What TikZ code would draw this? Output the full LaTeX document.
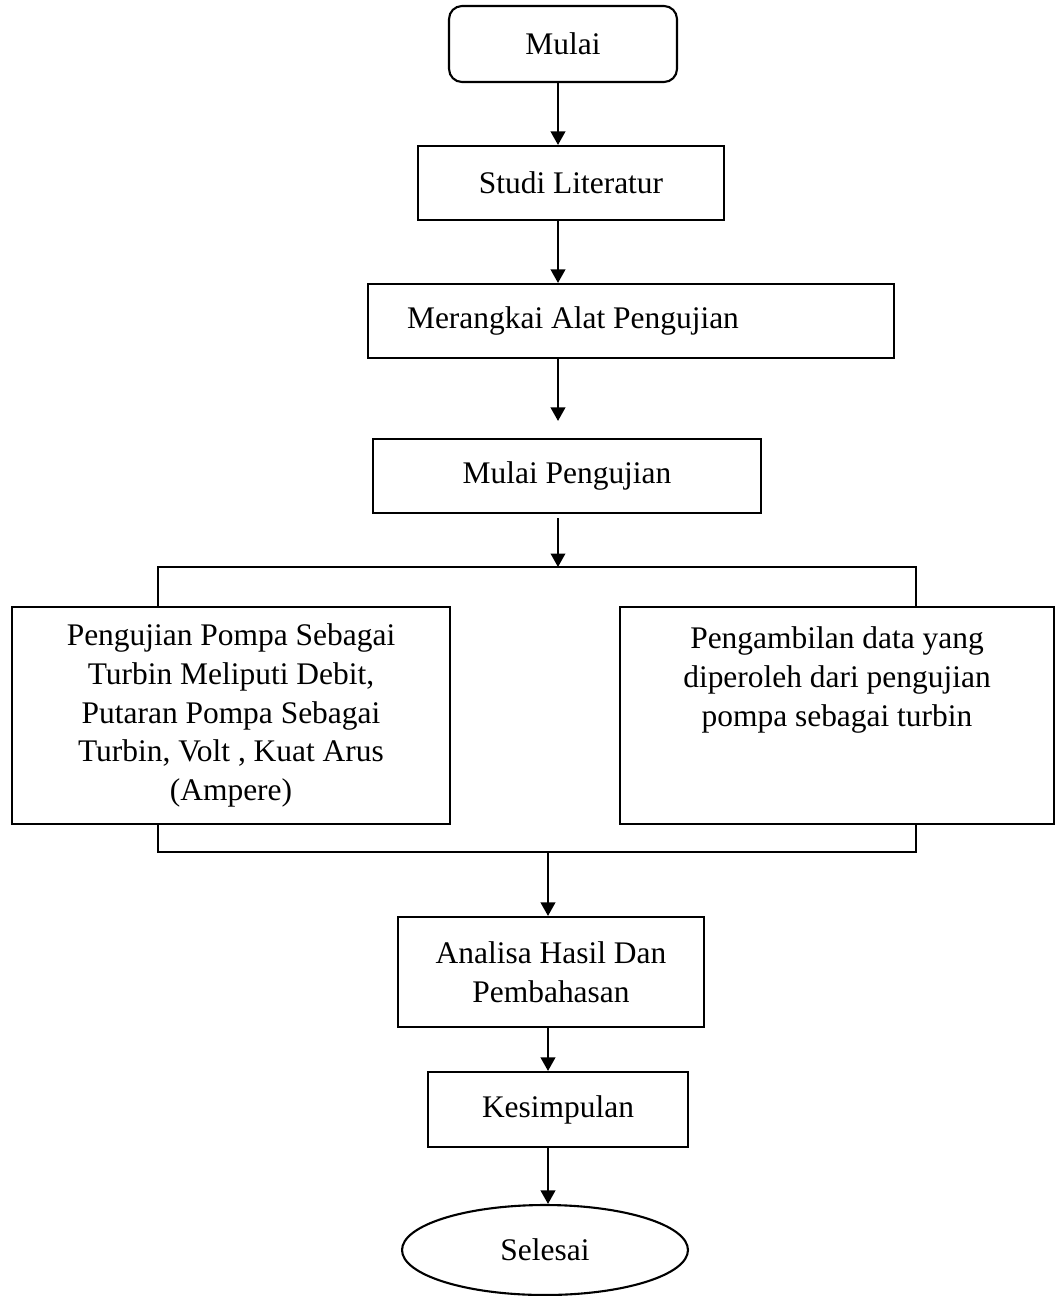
\documentclass[tikz,border=0pt]{standalone}
\usepackage{fontspec}
\setmainfont{Liberation Serif}
\usetikzlibrary{arrows.meta,shapes.geometric}

\begin{document}
\begin{tikzpicture}
 [x=0.02cm, y=-0.02cm, line width=1.2pt,
  every node/.style={font=\fontsize{17.9}{22.1}\selectfont},
  box/.style={draw, inner sep=0pt, align=center},
  startbox/.style={box, rounded corners=0.26cm},
  endbox/.style={draw, ellipse, inner sep=0pt},
  arr/.style={-{Triangle[length=0.27cm,width=0.29cm]}}]

  \useasboundingbox (0,0) rectangle (1055,1296);

  \draw node[startbox, minimum width=4.56cm, minimum height=1.52cm] at (563,44) (mulai) {Mulai};
  \draw node[box, minimum width=6.12cm, minimum height=1.48cm] at (571,183) (studi) {Studi Literatur};
  \draw node[box, minimum width=10.52cm, minimum height=1.48cm,
             text width=8.96cm, inner xsep=0.78cm, align=flush left] at (631,321) (rangkai) {Merangkai Alat Pengujian};
  \draw node[box, minimum width=7.76cm, minimum height=1.48cm] at (567,476) (ujimulai) {Mulai Pengujian};

  \draw node[box, minimum width=8.76cm, minimum height=4.34cm] at (231,715.5) (uji)
    {Pengujian Pompa Sebagai\\Turbin Meliputi Debit,\\Putaran Pompa Sebagai\\Turbin, Volt , Kuat Arus\\(Ampere)};
  \draw node[box, minimum width=8.68cm, minimum height=4.34cm] at (837,715.5) (ambil)
    {Pengambilan data yang\\diperoleh dari pengujian\\pompa sebagai turbin\\~\\~};

  \draw node[box, minimum width=6.12cm, minimum height=2.2cm] at (551,972) (analisa) {Analisa Hasil Dan\\Pembahasan};
  \draw node[box, minimum width=5.2cm, minimum height=1.5cm] at (558,1109.5) (simpul) {Kesimpulan};
  \draw node[endbox, minimum width=5.72cm, minimum height=1.8cm] at (545,1250) (selesai) {Selesai};

  % arrow columns and bracket corners
  \coordinate (axis) at (558,0);
  \coordinate (axisb) at (548,0);
  \coordinate (splitL) at (158,567);
  \coordinate (splitR) at (916,567);
  \coordinate (joinL) at (158,852);
  \coordinate (joinR) at (916,852);

  \foreach \a/\b in {mulai/studi, studi/rangkai}
    \draw[arr] (\a.south -| axis) -- (\b.north -| axis);
  \draw[arr, shorten >=0.34cm] (rangkai.south -| axis) -- (ujimulai.north -| axis);
  \draw[arr, shorten <=0.08cm] (ujimulai.south -| axis) -- (splitL -| axis);

  \draw (uji.north -| splitL) -- (splitL) -- (splitR) -- (ambil.north -| splitR);
  \draw (uji.south -| joinL) -- (joinL) -- (joinR) -- (ambil.south -| joinR);

  \draw[arr] (joinL -| axisb) -- (analisa.north -| axisb);
  \foreach \a/\b in {analisa/simpul, simpul/selesai}
    \draw[arr] (\a.south -| axisb) -- (\b.north -| axisb);

\end{tikzpicture}
\end{document}
